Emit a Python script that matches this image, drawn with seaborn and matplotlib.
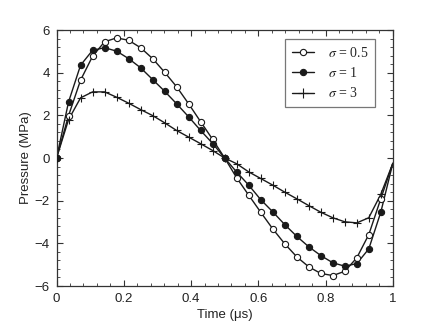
import numpy as np
import pandas as pd
import matplotlib
matplotlib.use("Agg")
import matplotlib.pyplot as plt
from matplotlib.lines import Line2D
from matplotlib.ticker import MultipleLocator, FuncFormatter
import seaborn as sns

# ---- data ----
idx = list(range(28))
x_marks = [i / 28 for i in idx]
x_end = 1.0

p_s05 = [0.0, 1.99, 3.65, 4.77, 5.45, 5.63, 5.52, 5.17, 4.66, 4.02, 3.34, 2.54, 1.70, 0.87,
         0.0, -0.93, -1.74, -2.54, -3.32, -4.02, -4.63, -5.10, -5.41, -5.51, -5.31, -4.68, -3.59, -1.91]
p_s1 = [0.0, 2.63, 4.35, 5.05, 5.17, 5.01, 4.66, 4.23, 3.68, 3.13, 2.54, 1.93, 1.29, 0.68,
        0.0, -0.66, -1.27, -1.95, -2.52, -3.12, -3.67, -4.16, -4.57, -4.91, -5.07, -4.95, -4.26, -2.54]
p_s3 = [0.0, 1.80, 2.82, 3.10, 3.10, 2.85, 2.57, 2.27, 1.99, 1.65, 1.29, 0.98, 0.67, 0.35,
        0.0, -0.27, -0.65, -0.96, -1.27, -1.60, -1.91, -2.23, -2.54, -2.80, -2.99, -3.04, -2.80, -1.70]
end_vals = [-0.25, -0.25, -0.25]

labels = [r"$\sigma$ = 0.5", r"$\sigma$ = 1", r"$\sigma$ = 3"]
series = [p_s05, p_s1, p_s3]

sns.set_style("ticks")
plt.rcParams["font.family"] = ["Liberation Sans", "DejaVu Sans"]
plt.rcParams["mathtext.fontset"] = "stix"

fig = plt.figure(figsize=(4.35, 3.28), dpi=100)
ax = fig.add_axes([0.130, 0.128, 0.773, 0.7805])

lc = "#1a1a1a"
styles = [dict(marker="o", mfc="white", ms=4.5),
          dict(marker="o", mfc=lc, ms=4.5),
          dict(marker="+", mfc=lc, ms=6)]

frames = []
for lab, vals, ev in zip(labels, series, end_vals):
    frames.append(pd.DataFrame({"t": x_marks + [x_end], "p": vals + [ev], "s": lab}))
df = pd.concat(frames, ignore_index=True)

for lab, st in zip(labels, styles):
    sub = df[df.s == lab]
    sns.lineplot(data=sub, x="t", y="p", ax=ax, color=lc, lw=1.0, sort=False, legend=False)
    mk = sub.iloc[:-1]
    if st["marker"] == "+":
        sns.scatterplot(data=mk, x="t", y="p", ax=ax, marker="+", color=lc, s=28,
                        linewidth=0.8, legend=False, zorder=3)
    else:
        sns.scatterplot(data=mk, x="t", y="p", ax=ax, marker="o", facecolor=st["mfc"],
                        edgecolor=lc, s=20, linewidth=0.8, legend=False, zorder=3)

ax.set_xlim(0, 1)
ax.set_ylim(-6, 6)
ax.xaxis.set_major_locator(MultipleLocator(0.2))
ax.xaxis.set_minor_locator(MultipleLocator(0.04))
ax.yaxis.set_major_locator(MultipleLocator(2))
ax.yaxis.set_minor_locator(MultipleLocator(0.4))
ax.xaxis.set_major_formatter(FuncFormatter(lambda v, p: f"{v:g}"))
ax.yaxis.set_major_formatter(FuncFormatter(lambda v, p: f"{v:g}".replace("-", "\u2212")))
ax.tick_params(which="both", direction="in", top=True, right=True, colors="#333333",
               labelcolor="#222222", labelsize=9.5)
ax.tick_params(which="major", length=4, width=0.8, pad=5)
ax.tick_params(which="minor", length=2, width=0.6)
for sp in ax.spines.values():
    sp.set_visible(True)
    sp.set_color("#333333")
    sp.set_linewidth(0.9)

ax.set_xlabel("Time (\u03bcs)", fontsize=9.5, color="#222222", labelpad=3)
ax.set_ylabel("Pressure (MPa)", fontsize=9.5, color="#222222", labelpad=2)

handles = [Line2D([], [], color=lc, lw=1.0, marker=st["marker"], mfc=st["mfc"], mec=lc,
                  ms=st["ms"] if st["marker"] != "+" else 7, mew=0.8) for st in styles]
leg = ax.legend(handles, labels, loc="upper right", bbox_to_anchor=(0.948, 0.965),
                borderaxespad=0.0, frameon=True, fancybox=False, edgecolor="#777777",
                framealpha=1, handlelength=1.6, handletextpad=1.0, labelspacing=0.45,
                borderpad=0.5, prop={"family": "Liberation Serif", "size": 10})
leg.get_frame().set_linewidth(0.9)

fig.savefig("out.png", dpi=100)
